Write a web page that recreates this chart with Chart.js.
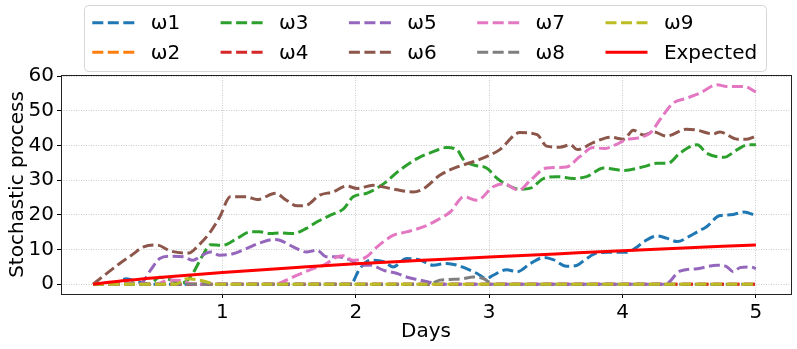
<!DOCTYPE html>
<html lang="en">
<head>
    <meta charset="UTF-8">
    <title>Stochastic process</title>
    <style>
        body { margin: 0; background: #fff; }
        canvas { display: block; }
    </style>
</head>
<body>
    <canvas id="chart" width="797" height="349"></canvas>
</body>
<script src="https://cdn.jsdelivr.net/npm/chart.js"></script>
<script>
    // [day, value] pairs
    const w1 = [[0.03,0],[0.2,0.5],[0.28,1.6],[0.36,0.8],[0.45,0],[1.96,0],[2.03,4.5],[2.11,6.9],[2.21,6.5],[2.28,5.0],[2.38,7.4],[2.48,7.0],[2.58,5.5],[2.68,6.0],[2.76,5.5],[2.83,4.5],[2.91,3.1],[2.98,1.6],[3.03,2.6],[3.13,4.2],[3.21,3.6],[3.31,6.0],[3.41,7.7],[3.48,7.1],[3.58,5.2],[3.66,5.5],[3.73,7.4],[3.81,9.0],[3.9,9.2],[4.03,9.2],[4.1,10.5],[4.16,12.3],[4.26,13.9],[4.33,13.3],[4.41,12.3],[4.5,13.8],[4.56,15.1],[4.63,16.6],[4.73,19.8],[4.81,20.0],[4.91,20.8],[5.0,19.8]]
    const w2 = [[0.03,0],[5.0,0]]
    const w3 = [[0.03,0],[0.45,0],[0.53,2],[0.62,1.2],[0.7,0.4],[0.76,2.1],[0.86,8.8],[0.91,11.4],[1.0,11.2],[1.11,13.2],[1.21,15.1],[1.28,15.1],[1.36,14.6],[1.43,14.8],[1.53,14.6],[1.63,16.1],[1.71,18.0],[1.81,19.9],[1.91,21.8],[1.98,25.2],[2.08,26.2],[2.21,29.0],[2.33,32.9],[2.46,36.2],[2.58,38.2],[2.68,39.4],[2.76,38.7],[2.81,35.8],[2.88,34.4],[2.98,33.5],[3.06,30.5],[3.13,28.7],[3.23,27.4],[3.31,27.7],[3.41,30.5],[3.51,31.0],[3.63,30.5],[3.73,31.0],[3.86,33.5],[4.01,32.8],[4.16,33.9],[4.26,34.9],[4.34,34.9],[4.43,37.8],[4.56,40.2],[4.63,37.8],[4.76,36.6],[4.86,38.8],[4.94,40.2],[5.0,40.2]]
    const w4 = [[0.03,0],[5.0,0]]
    const w5 = [[0.03,0],[0.38,0],[0.46,4],[0.53,7.4],[0.61,8.1],[0.71,7.9],[0.78,6.9],[0.83,7.9],[0.91,9.3],[0.98,8.4],[1.08,8.8],[1.18,10.3],[1.28,11.9],[1.38,12.9],[1.43,12.7],[1.53,10.8],[1.63,9.3],[1.71,9.8],[1.78,7.9],[1.86,7.9],[1.96,7.0],[2.03,5.5],[2.11,5.5],[2.21,4.0],[2.31,3.1],[2.38,2.1],[2.48,1.2],[2.56,0.5],[2.62,0],[4.32,0],[4.43,3.8],[4.56,4.5],[4.71,5.5],[4.78,5.1],[4.83,3.6],[4.88,4.8],[4.96,5.0],[5.0,4.5]]
    const w6 = [[0.03,0],[0.23,6],[0.32,8.4],[0.41,10.8],[0.51,11.3],[0.61,9.6],[0.75,9.0],[0.81,10.8],[0.91,15.1],[0.98,19.4],[1.06,25.2],[1.18,25.2],[1.26,24.4],[1.4,26.2],[1.48,24.2],[1.56,22.6],[1.63,22.8],[1.73,25.7],[1.83,26.6],[1.93,28.3],[2.01,27.6],[2.13,28.5],[2.26,27.6],[2.43,26.6],[2.51,27.6],[2.63,31.4],[2.76,33.8],[2.88,35.3],[3.01,37.3],[3.08,38.8],[3.23,43.7],[3.36,43.1],[3.43,39.8],[3.53,39.5],[3.61,40.2],[3.66,38.8],[3.78,40.8],[3.91,42.4],[4.01,41.8],[4.08,44.4],[4.16,43.0],[4.23,43.9],[4.33,42.7],[4.48,44.7],[4.56,44.4],[4.68,43.3],[4.73,43.9],[4.86,41.8],[4.93,41.8],[5.0,42.7]]
    const w7 = [[0.03,0],[0.5,0],[0.6,1.2],[0.7,1.0],[0.78,0],[1.38,0],[1.53,2.1],[1.68,4.5],[1.76,5.5],[1.86,7.9],[1.91,8.2],[1.98,6.9],[2.08,7.9],[2.16,10.8],[2.28,14.1],[2.38,15.1],[2.51,16.6],[2.61,18.5],[2.71,20.9],[2.81,25.2],[2.91,24.2],[3.03,28.1],[3.11,29.0],[3.22,27.1],[3.31,30.0],[3.43,33.5],[3.58,33.8],[3.68,36.8],[3.78,39.4],[3.86,39.1],[3.96,40.4],[4.03,41.7],[4.11,42.1],[4.21,43.7],[4.28,47.4],[4.38,52.2],[4.48,53.6],[4.58,55.1],[4.71,57.5],[4.78,57.0],[4.91,57.0],[5.0,55.4]]
    const w8 = [[0.03,0],[2.55,0],[2.63,1.2],[2.71,1.4],[2.8,1.6],[2.88,2.1],[2.96,1.6],[3.03,0],[5.0,0]]
    const w9 = [[0.03,0],[0.65,0],[0.73,1.6],[0.83,1.2],[0.91,0.4],[0.96,0],[5.0,0]]
    const expected = [[0.03,0],[0.25,1.0],[0.5,1.9],[1,3.4],[1.5,4.7],[2,5.95],[2.5,6.9],[3,7.85],[3.5,8.75],[4,9.65],[4.5,10.5],[5,11.35]]

    const labels = ['ω1', 'ω2', 'ω3', 'ω4', 'ω5', 'ω6', 'ω7', 'ω8', 'ω9', 'Expected']
    const colors = ['#1f77b4', '#ff7f0e', '#2ca02c', '#d62728', '#9467bd', '#8c564b', '#e377c2', '#7f7f7f', '#bcbd22', '#ff0000']
    const xTicks = [1, 2, 3, 4, 5]
    const yTicks = [0, 10, 20, 30, 40, 50, 60]

    const FONT = '"DejaVu Sans", sans-serif'
    const DASH = [11, 4.5]

    const series = [w1, w2, w3, w4, w5, w6, w7, w8, w9, expected]
    const datasets = series.map((pts, i) => {
        const isExp = labels[i] === 'Expected'
        return {
            label: labels[i],
            data: pts.map(([x, y]) => ({x: x, y: y})),
            borderColor: colors[i],
            borderWidth: 3,
            borderDash: isExp ? [] : DASH,
            borderCapStyle: 'butt',
            pointRadius: 0,
            fill: false,
            cubicInterpolationMode: 'monotone',
            order: series.length - i   // later series drawn on top, like matplotlib
        }
    })

    // frame round the plot area + matplotlib-like legend box
    const framePlugin = {
        id: 'frame',
        afterDraw(chart) {
            const {ctx, chartArea: a} = chart
            ctx.save()
            ctx.strokeStyle = '#222'
            ctx.lineWidth = 1
            ctx.setLineDash([])
            ctx.strokeRect(Math.round(a.left) + 0.5, Math.round(a.top) + 0.5,
                Math.round(a.right - a.left), Math.round(a.bottom - a.top))

            // legend, column-major like ncol=5
            const bx = 84.5, by = 5.5, bw = 682, bh = 66, r = 4
            ctx.beginPath()
            ctx.moveTo(bx + r, by)
            ctx.arcTo(bx + bw, by, bx + bw, by + bh, r)
            ctx.arcTo(bx + bw, by + bh, bx, by + bh, r)
            ctx.arcTo(bx, by + bh, bx, by, r)
            ctx.arcTo(bx, by, bx + bw, by, r)
            ctx.closePath()
            ctx.fillStyle = 'rgba(255,255,255,0.8)'
            ctx.fill()
            ctx.strokeStyle = '#d6d6d6'
            ctx.stroke()

            ctx.font = '20px ' + FONT
            ctx.textBaseline = 'middle'
            ctx.fillStyle = '#000'
            chart.data.datasets.forEach((ds, i) => {
                const col = Math.floor(i / 2), row = i % 2
                const x0 = 92.3 + col * 128.3
                const y0 = row === 0 ? 22.7 : 52.3
                ctx.beginPath()
                ctx.setLineDash(ds.borderDash)
                ctx.lineWidth = 3
                ctx.lineCap = 'butt'
                ctx.strokeStyle = ds.borderColor
                ctx.moveTo(x0, y0)
                ctx.lineTo(x0 + 42, y0)
                ctx.stroke()
                ctx.setLineDash([])
                ctx.fillText(ds.label, x0 + 58.4, y0 + 1)
            })
            ctx.restore()
        }
    }

    const gridOpts = {
        color: '#bdbdbd',
        lineWidth: 0.8,
        tickColor: '#000',
        tickLength: 4,
        tickWidth: 1,
        tickBorderDash: []
    }

    new Chart(document.getElementById('chart'), {
        type: 'line',
        data: {datasets: datasets},
        options: {
            responsive: false,
            animation: false,
            devicePixelRatio: 1,
            layout: {padding: {top: 75, right: 6, left: 0, bottom: 0}},
            plugins: {legend: {display: false}, tooltip: {enabled: false}},
            scales: {
                x: {
                    type: 'linear',
                    min: -0.21,
                    max: 5.263,
                    afterBuildTicks: (s) => { s.ticks = xTicks.map(v => ({value: v})) },
                    afterFit: (s) => { s.height = 55 },
                    ticks: {font: {size: 20, family: FONT}, color: '#000', padding: 3, maxRotation: 0},
                    grid: gridOpts,
                    border: {display: false, dash: [1, 1.5]},
                    title: {display: true, text: 'Days', font: {size: 20, family: FONT}, color: '#000', padding: {top: 0, bottom: 5}}
                },
                y: {
                    type: 'linear',
                    min: -2.8,
                    max: 60.3,
                    afterBuildTicks: (s) => { s.ticks = yTicks.map(v => ({value: v})) },
                    afterFit: (s) => { s.width = 61 },
                    ticks: {font: {size: 20, family: FONT}, color: '#000', padding: 3},
                    grid: gridOpts,
                    border: {display: false, dash: [1, 1.5]},
                    title: {display: true, text: 'Stochastic process', font: {size: 20, family: FONT}, color: '#000', padding: {top: 6, bottom: 0}}
                }
            }
        },
        plugins: [framePlugin]
    })
</script>
</html>
